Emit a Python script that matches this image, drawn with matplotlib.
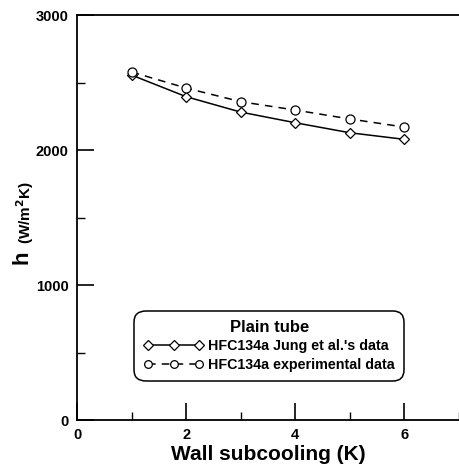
import matplotlib.pyplot as plt
from matplotlib.ticker import MultipleLocator

plt.rcParams['font.family'] = ['Liberation Sans', 'DejaVu Sans']
plt.rcParams['font.weight'] = 'bold'

# Data
subcooling = [1, 2, 3, 4, 5, 6]
h_jung = [2555, 2395, 2281, 2202, 2128, 2079]
h_exp = [2578, 2459, 2358, 2296, 2230, 2170]

fig = plt.figure(figsize=(4.59, 4.67), dpi=100)
ax = fig.add_axes([0.168, 0.1006, 0.832, 0.8672])

ax.plot(subcooling, h_jung, color='black', lw=1.1, marker='D', markersize=5.5,
        markerfacecolor='white', markeredgecolor='black', markeredgewidth=0.9,
        label="HFC134a Jung et al.'s data")
ax.plot(subcooling, h_exp, color='black', lw=1.1, ls=(0, (5, 4)), marker='o', markersize=6.5,
        markerfacecolor='white', markeredgecolor='black', markeredgewidth=0.9,
        label='HFC134a experimental data')

ax.set_xlim(0, 7)
ax.set_ylim(0, 3000)
ax.xaxis.set_major_locator(MultipleLocator(2))
ax.xaxis.set_minor_locator(MultipleLocator(1))
ax.yaxis.set_major_locator(MultipleLocator(1000))
ax.yaxis.set_minor_locator(MultipleLocator(500))
ax.tick_params(which='major', direction='in', length=12, width=1.2, labelsize=10.5, pad=6)
ax.tick_params(which='minor', direction='in', length=6, width=1.0)
ax.spines['right'].set_visible(False)
for s in ['left', 'bottom', 'top']:
    ax.spines[s].set_linewidth(1.3)

ax.set_xlabel('Wall subcooling (K)', fontsize=15, fontweight='bold', labelpad=2)
fig.text(0.048, (467 - 264) / 467, 'h', rotation=90, fontsize=16, fontweight='bold',
         ha='center', va='bottom')
fig.text(0.054, (467 - 244) / 467, '(W/m$^\\mathbf{2}$K)', rotation=90, fontsize=11,
         fontweight='bold', ha='center', va='bottom')

leg = ax.legend(loc='center', bbox_to_anchor=(0.503, 0.183), numpoints=3,
                title='Plain tube', fontsize=10.3, title_fontproperties={'weight': 'bold', 'size': 12},
                frameon=True, fancybox=True, edgecolor='black', handlelength=4.2,
                handletextpad=0.3, borderpad=0.45, labelspacing=0.3, borderaxespad=0,
                markerscale=0.85)
leg.get_frame().set_linewidth(1.1)
leg.get_frame().set_alpha(1)
leg.get_frame().set_boxstyle('round,pad=0.2,rounding_size=0.8')

fig.savefig('out.png', dpi=100)
